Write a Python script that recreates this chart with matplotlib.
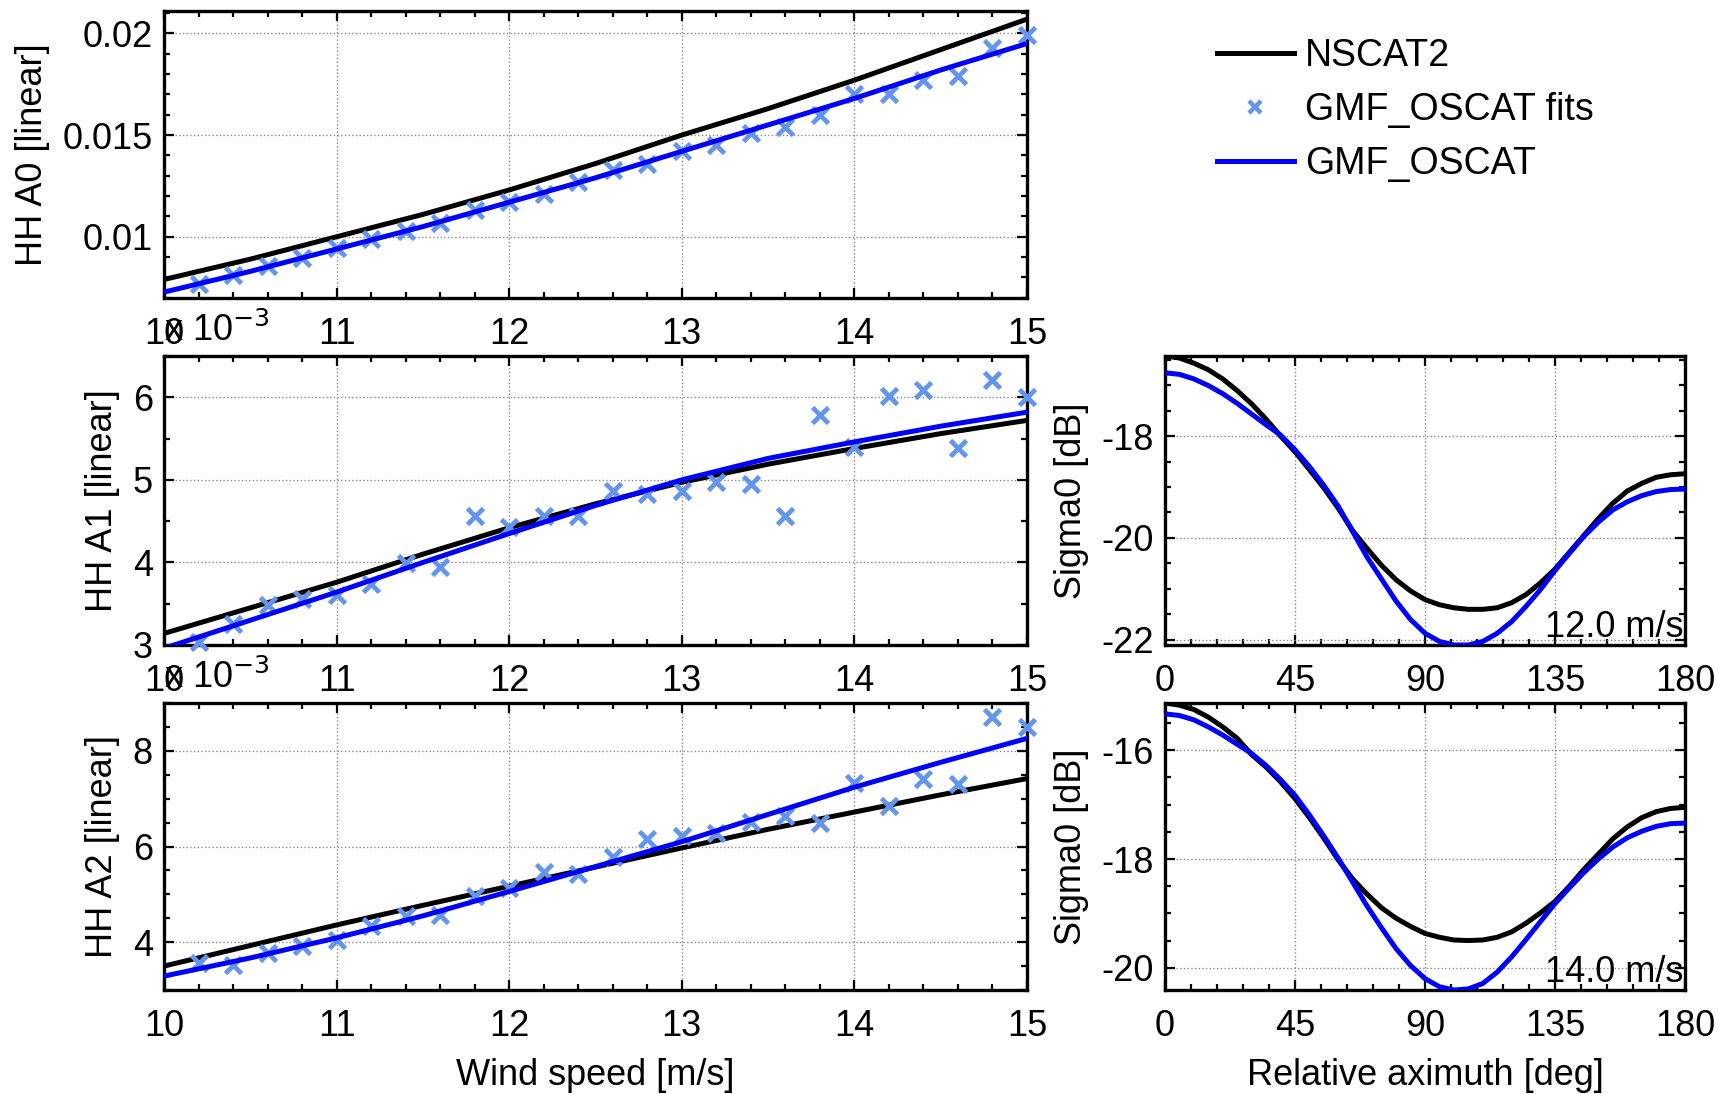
import numpy as np
import matplotlib
matplotlib.use("Agg")
import matplotlib.pyplot as plt
from matplotlib.ticker import MultipleLocator, FixedLocator
from matplotlib.lines import Line2D

plt.rcParams['font.family'] = ['Liberation Sans', 'DejaVu Sans']

# ---------------- data ----------------
wind_curve = [10.0, 10.5, 11.0, 11.5, 12.0, 12.5, 13.0, 13.5, 14.0, 14.5, 15.0]
a0_nscat2 = [0.0079, 0.0089, 0.0100, 0.0111, 0.0123, 0.0136, 0.0150, 0.0163, 0.0177, 0.0192, 0.0207]
a0_oscat = [0.00728, 0.0083, 0.0094, 0.0105, 0.0117, 0.0129, 0.0142, 0.0155, 0.0168, 0.0182, 0.0195]
a1_nscat2 = [3.14, 3.45, 3.76, 4.10, 4.42, 4.71, 4.97, 5.19, 5.38, 5.56, 5.72]
a1_oscat = [2.96, 3.30, 3.64, 4.00, 4.35, 4.69, 5.00, 5.26, 5.46, 5.65, 5.82]
a2_nscat2 = [3.50, 3.93, 4.36, 4.77, 5.17, 5.57, 5.97, 6.36, 6.72, 7.08, 7.42]
a2_oscat = [3.29, 3.67, 4.09, 4.55, 5.06, 5.58, 6.10, 6.67, 7.24, 7.76, 8.26]

wind_fits = [10.2, 10.4, 10.6, 10.8, 11.0, 11.2, 11.4, 11.6, 11.8, 12.0, 12.2, 12.4, 12.6,
             12.8, 13.0, 13.2, 13.4, 13.6, 13.8, 14.0, 14.2, 14.4, 14.6, 14.8, 15.0]
a0_fits = [0.00766, 0.0081, 0.00855, 0.00895, 0.00944, 0.00987, 0.0103, 0.0107, 0.0113, 0.0117,
           0.0121, 0.0127, 0.0133, 0.0136, 0.0142, 0.0145, 0.0151, 0.0154, 0.0160, 0.0170,
           0.0170, 0.0177, 0.0179, 0.0193, 0.0199]
a1_fits = [3.04, 3.26, 3.48, 3.56, 3.60, 3.74, 3.99, 3.94, 4.56, 4.43, 4.56, 4.56, 4.87,
           4.83, 4.87, 4.98, 4.95, 4.56, 5.78, 5.40, 6.02, 6.09, 5.38, 6.21, 6.00]
a2_fits = [3.57, 3.53, 3.78, 3.93, 4.04, 4.33, 4.54, 4.57, 4.96, 5.13, 5.47, 5.42, 5.79,
           6.15, 6.21, 6.28, 6.52, 6.63, 6.50, 7.33, 6.85, 7.42, 7.30, 8.71, 8.50]

azimuth = [0, 5, 10, 15, 20, 25, 30, 35, 40, 45, 50, 55, 60, 65, 70, 75, 80, 85, 90,
           95, 100, 105, 110, 115, 120, 125, 130, 135, 140, 145, 150, 155, 160, 165, 170, 175, 180]
s12_nscat2 = [-16.43, -16.47, -16.57, -16.70, -16.88, -17.11, -17.37, -17.67, -18.00, -18.31,
              -18.66, -19.02, -19.42, -19.86, -20.21, -20.54, -20.82, -21.04, -21.21,
              -21.31, -21.37, -21.40, -21.40, -21.37, -21.27, -21.11, -20.88, -20.61, -20.28,
              -19.95, -19.62, -19.32, -19.08, -18.93, -18.81, -18.76, -18.74]
s12_oscat = [-16.76, -16.79, -16.88, -17.01, -17.17, -17.36, -17.57, -17.78, -17.98, -18.27,
             -18.60, -18.97, -19.38, -19.88, -20.38, -20.81, -21.24, -21.60, -21.87,
             -22.03, -22.10, -22.10, -22.03, -21.87, -21.64, -21.34, -21.01, -20.64, -20.30,
             -19.97, -19.69, -19.45, -19.29, -19.17, -19.09, -19.05, -19.04]
s14_nscat2 = [-15.13, -15.17, -15.25, -15.39, -15.57, -15.78, -16.08, -16.31, -16.58, -16.89,
              -17.24, -17.62, -18.02, -18.37, -18.65, -18.90, -19.09, -19.24, -19.37,
              -19.44, -19.49, -19.50, -19.49, -19.44, -19.34, -19.18, -18.99, -18.78, -18.50,
              -18.19, -17.91, -17.63, -17.41, -17.24, -17.13, -17.07, -17.05]
s14_oscat = [-15.33, -15.36, -15.44, -15.57, -15.72, -15.89, -16.06, -16.28, -16.54, -16.83,
             -17.19, -17.58, -17.99, -18.43, -18.87, -19.27, -19.65, -19.96, -20.20,
             -20.35, -20.41, -20.39, -20.29, -20.08, -19.80, -19.48, -19.15, -18.82, -18.53,
             -18.25, -18.00, -17.78, -17.61, -17.49, -17.40, -17.35, -17.34]

legend_labels = ['NSCAT2', 'GMF_OSCAT fits', 'GMF_OSCAT']
speed_labels = ['12.0 m/s', '14.0 m/s']

# ---------------- style ----------------
C_BLACK = 'black'
C_BLUE = '#0000ff'
C_FIT = '#6495ED'
FS = 26
LW = 3.6

W, H = 1719, 1094
fig = plt.figure(figsize=(W / 100, H / 100), dpi=100)


def box(l, t, r, b):
    return [l / W, 1 - b / H, (r - l) / W, (b - t) / H]


def style(ax, xminor, yminor):
    for s in ax.spines.values():
        s.set_linewidth(2.4)
    ax.tick_params(which='both', direction='in', top=True, right=True, labelsize=FS,
                   width=1.6)
    ax.tick_params(axis='x', which='both', pad=14)
    ax.tick_params(axis='y', which='both', pad=8)
    ax.tick_params(which='major', length=7)
    ax.tick_params(which='minor', length=4)
    ax.xaxis.set_minor_locator(MultipleLocator(xminor))
    ax.yaxis.set_minor_locator(MultipleLocator(yminor))
    ax.grid(True, which='major', linestyle=':', color='#888888', linewidth=1.0)
    ax.set_axisbelow(True)


L, R = 164, 1027
ax0 = fig.add_axes(box(L, 11, R, 298))
ax1 = fig.add_axes(box(L, 356, R, 645))
ax2 = fig.add_axes(box(L, 703, R, 990))

left_panels = [
    (ax0, a0_nscat2, a0_oscat, a0_fits, (0.00699, 0.0211), [0.01, 0.015, 0.02], ['0.01', '0.015', '0.02'], 'HH A0 [linear]', 0.001),
    (ax1, a1_nscat2, a1_oscat, a1_fits, (3, 6.5), [3, 4, 5, 6], ['3', '4', '5', '6'], 'HH A1 [linear]', 0.5),
    (ax2, a2_nscat2, a2_oscat, a2_fits, (3, 9), [4, 6, 8], ['4', '6', '8'], 'HH A2 [linear]', 0.5),
]

for ax, ns, osc, fits, ylim, yt, ytl, ylab, ymin in left_panels:
    ax.plot(wind_curve, ns, color=C_BLACK, lw=LW, zorder=3)
    ax.plot(wind_fits, fits, linestyle='none', marker='x', color=C_FIT, ms=11, mew=3.4, zorder=4,
            clip_on=False)
    ax.plot(wind_curve, osc, color=C_BLUE, lw=LW, zorder=5)
    ax.set_xlim(10, 15)
    ax.set_ylim(*ylim)
    ax.set_xticks([10, 11, 12, 13, 14, 15])
    ax.set_xticklabels(['10', '11', '12', '13', '14', '15'])
    ax.yaxis.set_major_locator(FixedLocator(yt))
    ax.set_yticklabels(ytl)
    ax.set_ylabel(ylab, fontsize=FS, labelpad=9)
    style(ax, 0.2, ymin)

for ax in (ax1, ax2):
    ax.annotate(r'x 10$^{-3}$', xy=(0, 1), xycoords='axes fraction', xytext=(0, 11),
                textcoords='offset points', ha='left', va='baseline', fontsize=FS)

ax2.set_xlabel('Wind speed [m/s]', fontsize=FS, labelpad=10)

RL, RR = 1165, 1685
ar1 = fig.add_axes(box(RL, 356, RR, 645))
ar2 = fig.add_axes(box(RL, 703, RR, 990))
right_panels = [
    (ar1, s12_nscat2, s12_oscat, [-22, -20, -18], speed_labels[0]),
    (ar2, s14_nscat2, s14_oscat, [-20, -18, -16], speed_labels[1]),
]
for ax, ns, osc, yt, lab in right_panels:
    ax.plot(azimuth, ns, color=C_BLACK, lw=LW, zorder=3)
    ax.plot(azimuth, osc, color=C_BLUE, lw=LW, zorder=4)
    ax.set_xlim(0, 180)
    lo = min(min(ns), min(osc))
    hi = max(max(ns), max(osc))
    ax.set_ylim(lo, hi)
    ax.set_xticks([0, 45, 90, 135, 180])
    ax.yaxis.set_major_locator(FixedLocator(yt))
    ax.set_yticklabels([str(v) for v in yt])
    ax.set_ylabel('Sigma0 [dB]', fontsize=FS, labelpad=9)
    style(ax, 9, 0.5)
    ax.text(0.997, 0.0, lab, transform=ax.transAxes, ha='right', va='bottom', fontsize=FS,
            zorder=6)

ar2.set_xlabel('Relative aximuth [deg]', fontsize=FS, labelpad=10)

handles = [Line2D([], [], color=C_BLACK, lw=LW),
           Line2D([], [], linestyle='none', marker='x', color=C_FIT, ms=9, mew=3.2),
           Line2D([], [], color=C_BLUE, lw=LW)]
fig.legend(handles, legend_labels, loc='upper left', bbox_to_anchor=(1217 / W, 1 - 38 / H),
           frameon=False, fontsize=27, handlelength=2.05, handletextpad=0.3, labelspacing=0.48,
           borderaxespad=0, borderpad=0)

fig.savefig('out.png', dpi=100)
